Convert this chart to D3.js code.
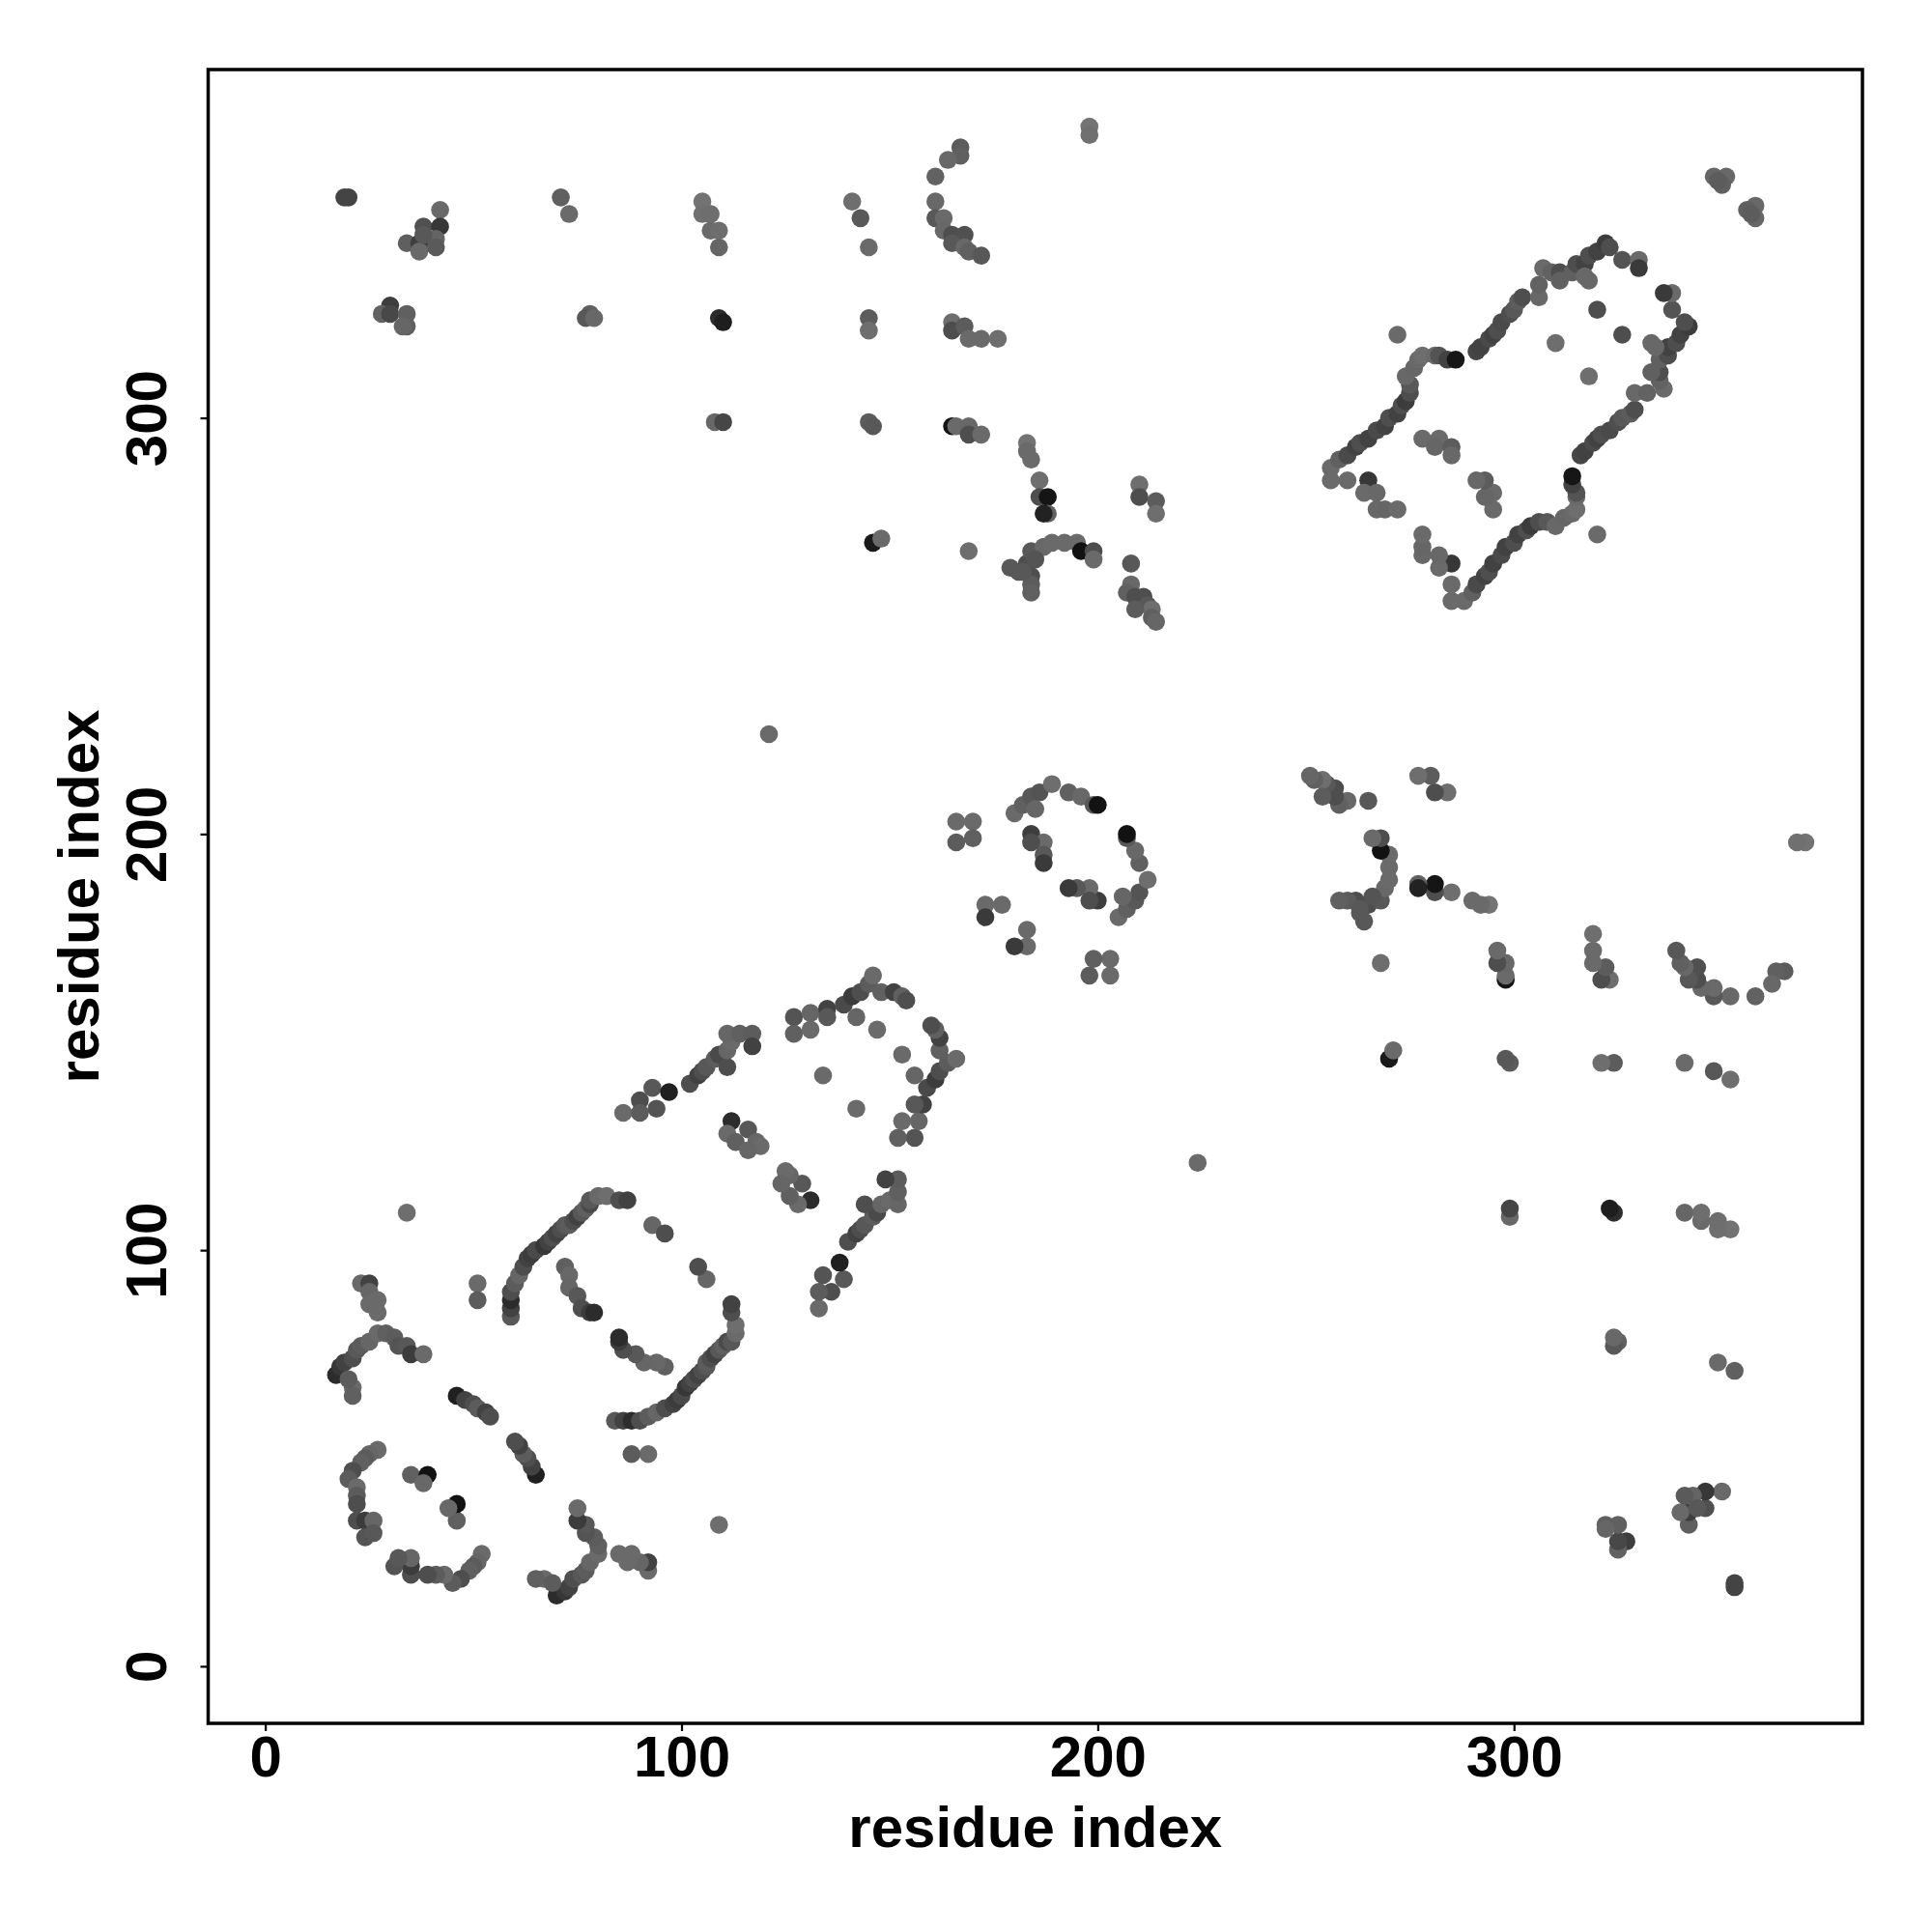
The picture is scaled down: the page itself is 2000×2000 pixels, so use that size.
<!DOCTYPE html>
<html>
<head>
<meta charset="utf-8">
<script src="https://cdn.jsdelivr.net/npm/d3@7"></script>
<style>
  html, body { margin: 0; padding: 0; background: #ffffff; }
  svg { display: block; }
  text { font-family: "Liberation Sans", Arial, sans-serif; font-weight: bold; }
</style>
</head>
<body>
<script>
// Contact pairs [residue i, residue j (> i), grey level 0-255]; map is symmetric, each pair drawn at (i,j) and (j,i)
const farContacts = [
  [19,353,68],[20,353,68],
  [42,350,105],[38,346,80],[42,346,55],[34,342,95],[37,342,62],[41,343,100],[37,340,105],[41,341,90],[38,344,88],
  [71,353,96],[73,349,106],
  [105,352,115],[105,349,112],[107,349,110],[107,345,106],[109,345,110],[109,341,102],
  [30,327,62],[28,325,98],[30,325,72],[34,325,96],[34,322,96],[33,322,102],
  [78,325,96],[77,324,88],[79,324,104],
  [109,324,44],[110,323,30],
  [108,299,104],[110,299,70],
  [198,370,115],[198,368,112],
  [167,365,92],[167,363,96],[164,362,104],[161,358,98],[161,352,104],[161,348,88],[163,348,106],[163,345,104],
  [165,344,78],[168,344,80],[165,342,88],[168,341,104],[169,340,96],[172,339,88],
  [141,352,110],[143,348,88],[145,341,106],
  [145,324,92],[145,321,110],
  [165,323,110],[165,321,78],[168,322,92],[169,319,106],[172,319,106],[176,319,110],
  [145,299,92],[146,298,88],
  [165,298,20],[166,298,106],[169,298,104],[169,296,78],[172,296,106],
  [183,294,115],[183,292,106],[184,290,106],
  [186,285,110],[186,281,78],[188,281,21],[188,277,98],[187,277,34],
  [210,284,110],[210,281,78],[214,280,92],[214,277,110],
  [146,270,26],[148,271,106],
  [169,268,110],
  [179,264,88],[181,263,88],[183,265,78],[184,268,88],[187,269,104],[189,270,106],[192,270,106],[195,270,106],
  [196,268,18],[199,268,78],[199,266,106],[184,262,78],[184,260,92],[184,258,96],[182,263,88],[185,266,84],
  [208,265,88],[208,260,104],[207,258,96],[209,257,78],[211,257,78],[212,255,88],[213,254,110],[213,252,96],
  [209,254,92],[214,251,102],
  [121,224,106]
];

const cTerminalContacts = [
  [256,288,106],[258,290,96],[260,291,74],[262,293,66],[263,294,78],[265,295,66],[267,297,74],[269,298,66],
  [270,300,78],[272,301,66],[273,303,78],[274,304,60],[275,306,78],[275,308,88],[274,310,104],[276,312,102],
  [277,314,105],[278,315,110],[281,315,106],[282,315,84],[284,314,66],[286,314,22],
  [272,320,106],
  [291,316,70],[292,317,66],[294,319,74],[295,320,66],[296,321,78],[297,323,74],[299,325,78],[300,326,88],
  [301,328,92],[302,329,78],[306,329,104],[306,332,98],[307,336,106],[309,335,98],[311,335,78],[311,333,96],
  [314,335,96],[315,337,78],[317,337,66],[318,339,78],[320,340,66],[322,342,60],[323,341,78],[326,338,84],
  [330,338,106],[330,336,58],[317,334,104],[318,333,104],
  [320,326,78],[310,318,110],
  [348,358,102],[351,358,104],[350,356,96],[349,357,92],
  [265,285,55],[264,282,106],[267,282,104],[267,278,104],[269,278,102],[272,278,106],
  [278,295,106],[282,295,106],[281,293,102],[285,293,92],[285,291,104],[260,285,106],[256,285,106]
];

const middleContacts = [
  [180,205,106],[182,207,96],[184,209,88],[186,210,84],[189,212,110],[193,210,96],[196,209,104],[199,207,88],
  [200,207,18],[185,206,102],[184,200,62],[187,198,106],[187,195,88],[187,193,58],[184,198,78],
  [166,203,106],[170,203,106],[166,198,92],[170,199,96],
  [173,183,106],[177,183,106],[173,180,58]
];

const nTerminalContacts = [
  [17,70,44],[18,72,55],[19,73,66],[21,74,78],[22,76,88],[23,77,92],[25,78,102],[27,80,106],[29,80,96],
  [31,79,92],[32,77,84],[34,77,88],[35,75,60],[38,75,106],[21,67,106],[21,65,96],[20,69,92],
  [23,92,106],[25,92,66],[25,90,102],[27,88,106],[27,85,106],[25,87,106],
  [34,109,110],
  [51,92,106],[51,88,92],
  [59,84,88],[59,86,66],[59,88,44],[59,90,78],[60,92,92],[61,94,102],[62,96,78],[63,98,66],[64,99,60],
  [65,100,74],[67,101,55],[68,102,66],[69,103,78],[70,104,66],[71,105,78],[72,106,88],[73,106,92],[74,107,78],
  [75,108,66],[76,109,88],[77,110,96],[78,111,74],[78,112,88],[80,113,106],[82,113,110],[85,112,78],[87,112,66],
  [72,96,96],[73,94,104],[73,91,102],[75,89,88],[76,86,78],[78,85,60],[79,85,44],
  [93,106,102],[96,104,78],
  [46,65,32],[48,64,66],[50,63,78],[51,62,92],[53,61,66],[54,60,78],
  [27,52,106],[25,51,102],[24,50,92],[23,49,96],[21,47,78],[20,45,92],[22,43,106],[22,41,92],[22,39,78],
  [22,35,78],[24,35,60],[26,35,102],[24,31,84],[26,32,88],
  [35,46,96],[39,46,18],[38,44,104],
  [86,133,106],[90,136,78],[93,139,88],[97,138,32],[90,133,92],[94,134,84],
  [102,140,78],[104,142,66],[105,143,78],[106,144,88],[108,146,92],[109,147,74],[111,144,78],[111,148,102],
  [112,150,106],[111,152,102],[114,152,96],[117,152,92],[117,149,66],
  [112,131,44],[111,128,106],[113,126,96],[116,129,88],[118,126,102],[119,125,106],[116,124,102],
  [127,156,84],[127,152,96],[131,157,102],[131,153,106],[135,158,66],[135,156,88],[139,159,74],[141,161,60],
  [143,162,78],[145,164,92],[146,166,106],[148,162,96],[151,162,66],[153,161,96],[154,160,78],[142,156,102],
  [147,153,106],[134,142,106]
];

const residueRange = [1, 369];
const tickValues = [0, 100, 200, 300];
const axisTitle = "residue index";

// ---- drawing ----
const W = 2000, H = 2000;
const plot = { left: 215.5, right: 1928, top: 72, bottom: 1784 };
const pad = 0.04 * (residueRange[1] - residueRange[0]);
const dom = [residueRange[0] - pad, residueRange[1] + pad];

const x = d3.scaleLinear().domain(dom).range([plot.left, plot.right]);
const y = d3.scaleLinear().domain(dom).range([plot.bottom, plot.top]);

const svg = d3.select("body").append("svg").attr("width", W).attr("height", H);
svg.append("rect").attr("width", W).attr("height", H).attr("fill", "#fff");

const all = [];
[farContacts, cTerminalContacts, middleContacts, nTerminalContacts].forEach(set => {
  set.forEach(([i, j, g]) => {
    all.push({ a: i, b: j, g });
    all.push({ a: j, b: i, g });
  });
});

svg.append("g").selectAll("circle").data(all).join("circle")
  .attr("cx", d => x(d.a))
  .attr("cy", d => y(d.b))
  .attr("r", 9.3)
  .attr("fill", d => d3.rgb(d.g, d.g, d.g));

// x axis
const gx = svg.append("g").attr("transform", `translate(0,${plot.bottom})`)
  .call(d3.axisBottom(x).tickValues(tickValues).tickSize(8).tickFormat(d3.format("d")));
gx.select(".domain").remove();
gx.selectAll(".tick line").attr("stroke", "#000").attr("stroke-width", 2.2);
gx.selectAll(".tick text").attr("y", 55).attr("dy", null)
  .attr("font-size", 60).attr("font-weight", "bold").attr("fill", "#000")
  .attr("font-family", "Liberation Sans, Arial, sans-serif");

// y axis
const gy = svg.append("g").attr("transform", `translate(${plot.left},0)`)
  .call(d3.axisLeft(y).tickValues(tickValues).tickSize(8).tickFormat(d3.format("d")));
gy.select(".domain").remove();
gy.selectAll(".tick line").attr("stroke", "#000").attr("stroke-width", 2.2);
gy.selectAll(".tick text")
  .attr("x", null).attr("dy", null)
  .attr("transform", `translate(${171.7 - plot.left},0) rotate(-90)`)
  .attr("text-anchor", "middle")
  .attr("font-size", 60).attr("font-weight", "bold").attr("fill", "#000")
  .attr("font-family", "Liberation Sans, Arial, sans-serif");

// box
svg.append("rect")
  .attr("x", plot.left).attr("y", plot.top)
  .attr("width", plot.right - plot.left).attr("height", plot.bottom - plot.top)
  .attr("fill", "none").attr("stroke", "#000").attr("stroke-width", 3.5);

// titles
svg.append("text").attr("x", (plot.left + plot.right) / 2).attr("y", 1911.7)
  .attr("text-anchor", "middle").attr("font-size", 60).attr("fill", "#000").text(axisTitle);
svg.append("text")
  .attr("transform", `translate(102,${(plot.top + plot.bottom) / 2}) rotate(-90)`)
  .attr("text-anchor", "middle").attr("font-size", 60).attr("fill", "#000").text(axisTitle);
</script>
</body>
</html>
